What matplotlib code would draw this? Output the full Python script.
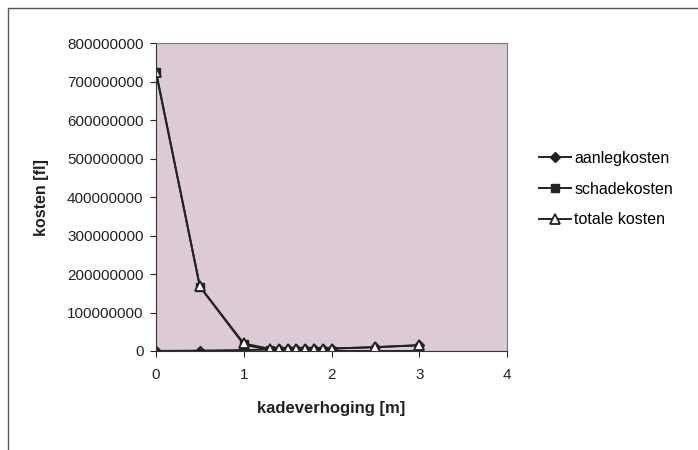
import numpy as np
import matplotlib
matplotlib.use('Agg')
import matplotlib.pyplot as plt
from matplotlib.patches import Rectangle

plt.rcParams['font.family'] = ['Liberation Sans', 'DejaVu Sans']

# kadeverhoging [m]
hoogte = [0, 0.5, 1, 1.3, 1.4, 1.5, 1.6, 1.7, 1.8, 1.9, 2.0, 2.5, 3.0]
# kosten in fl
aanlegkosten = [0, 1.0e6, 2.5e6, 3.5e6, 3.9e6, 4.3e6, 4.7e6, 5.1e6, 5.5e6, 5.9e6, 6.3e6, 1.0e7, 1.5e7]
schadekosten = [7.25e8, 1.67e8, 1.7e7, 2.0e6, 1.2e6, 8.0e5, 5.0e5, 3.0e5, 2.0e5, 1.0e5, 1.0e5, 2.0e4, 5.0e3]
totale_kosten = list(np.array(aanlegkosten) + np.array(schadekosten))

fig = plt.figure(figsize=(6.98, 4.5), dpi=100)
fig.patches.append(Rectangle((0.012, -0.01), 1.0, 0.992, transform=fig.transFigure,
                             fill=False, edgecolor='#555555', linewidth=1.0))

ax = fig.add_axes([0.2235, 0.22, 0.503, 0.684])
ax.set_facecolor('#dccad6')
for s in ax.spines.values():
    s.set_color('#777777')
ax.spines['left'].set_color('#333333')
ax.spines['bottom'].set_color('#333333')

lc = '#222222'
ax.plot(hoogte, aanlegkosten, color=lc, lw=1.4, marker='D', ms=5, mfc=lc, mec=lc, label='aanlegkosten')
ax.plot(hoogte, schadekosten, color=lc, lw=1.4, marker='s', ms=6, mfc=lc, mec=lc, label='schadekosten')
ax.plot(hoogte, totale_kosten, color=lc, lw=1.4, marker='^', ms=7.5, mfc='white', mec=lc, mew=1.3,
        label='totale kosten')

ax.set_xlim(0, 4)
ax.set_ylim(0, 8e8)
ax.set_xticks([0, 1, 2, 3, 4])
ax.set_yticks(np.arange(0, 8.01e8, 1e8))
ax.ticklabel_format(style='plain', axis='y', useOffset=False)
ax.tick_params(axis='both', direction='out', length=4, labelsize=11, colors='#222222', pad=5)
ax.tick_params(axis='x', pad=8)

ax.set_xlabel('kadeverhoging [m]', fontsize=12, fontweight='bold', labelpad=14, color='#222222')
ax.set_ylabel('kosten [fl]', fontsize=11.5, fontweight='bold', labelpad=13, color='#222222')

ax.legend(loc='center left', bbox_to_anchor=(0.752, 0.58), bbox_transform=fig.transFigure,
          frameon=False, fontsize=11.5, handlelength=2.0, handletextpad=0.2, labelspacing=1.0)

fig.savefig('out.png', dpi=100)
